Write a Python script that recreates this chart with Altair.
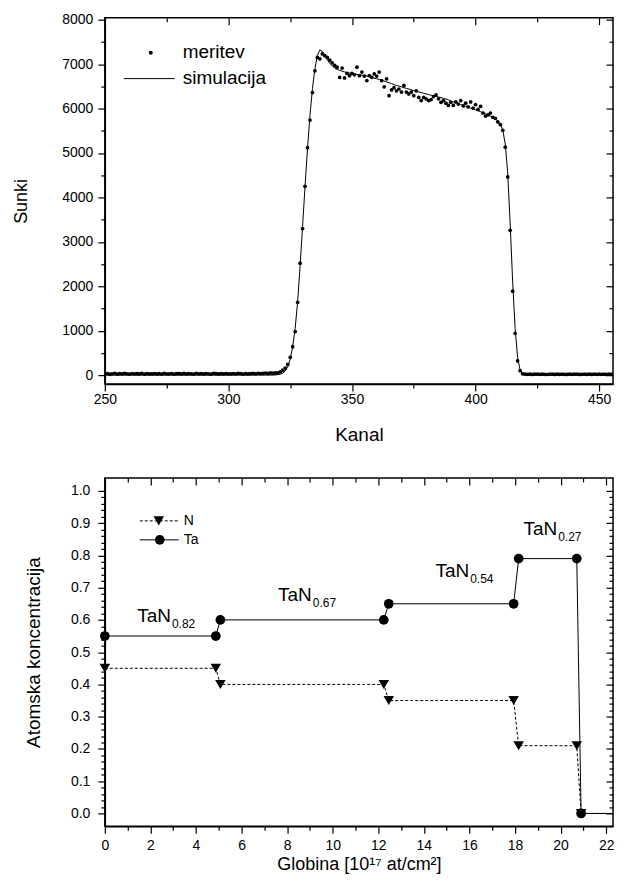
import altair as alt
import pandas as pd

FONT = "Liberation Sans"

# ---------------- top panel data (RBS spectrum) ----------------
kanal = list(range(250, 460))
meritev = (
    [28, 35, 22, 30, 40, 25, 33, 27, 38, 30,
     24, 36, 29, 31, 26, 40, 22, 34, 30, 28,
     35, 27, 32, 25, 38, 30, 29, 36, 23, 33,
     31, 26, 39, 28, 34, 30, 25, 37, 29, 32,
     27, 35, 30, 24, 38, 31, 28, 33, 26, 36,
     30, 29, 34, 27, 40, 31, 25, 35, 28, 33,
     37, 30, 42, 35, 40, 45, 38, 48, 44, 52]
    + [50, 75, 110, 160, 240, 400, 640, 980, 1640, 2520,
       3300, 4250, 5120, 5740, 6360, 6850, 7150, 7120, 7230, 7190,
       7150, 7090, 7030, 6970, 6930, 6700, 6910, 6690, 6790, 6740,
       6790, 6760, 6930, 6740, 6820, 6730, 6630, 6740, 6700, 6780,
       6730, 6820, 6630, 6490, 6670, 6290, 6420, 6470, 6400, 6440,
       6370, 6520, 6370, 6330, 6370, 6290, 6400, 6250, 6180, 6250,
       6220, 6180, 6200, 6270, 6310, 6220, 6140, 6180, 6120, 6070,
       6140, 6070, 6150, 6100, 6180, 6060, 6120, 6040, 6150, 6010,
       6090, 5980, 6050, 5900, 5830, 5860, 5900, 5800, 5780, 5700,
       5640, 5510, 5130, 4460, 3260, 1890, 940, 320, 100, 30,
       20]
    + [18, 22, 15, 20, 25, 17, 21, 19, 14, 23,
       20, 16, 22, 18, 24, 19, 15, 21, 17, 20,
       23, 16, 19, 22, 18, 20, 15, 24, 17, 21,
       19, 22, 16, 20, 18, 23, 17, 21, 19]
)
simulacija = (
    [0] * 69
    + [5, 10, 22, 45, 95, 190, 360, 640, 1050, 1650,
       2450, 3350, 4250, 5100, 5850, 6450, 6900, 7200, 7320, 7290,
       7200, 7100, 7020, 6960, 6910, 6880, 6860, 6840, 6825, 6810,
       6800, 6790, 6780, 6770, 6760, 6750, 6740, 6730, 6715, 6700,
       6685, 6670, 6655, 6640, 6620, 6600, 6580, 6560, 6540, 6520,
       6505, 6490, 6470, 6455, 6440, 6420, 6405, 6390, 6375, 6360,
       6345, 6330, 6315, 6300, 6290, 6275, 6260, 6245, 6230, 6215,
       6195, 6170, 6150, 6130, 6110, 6090, 6070, 6050, 6030, 6010,
       5990, 5970, 5950, 5930, 5905, 5880, 5855, 5830, 5800, 5765,
       5720, 5650, 5520, 5200, 4550, 3400, 2100, 1050, 400, 120,
       35, 8]
    + [0] * 39
)
legend_top = ["meritev", "simulacija"]

# ---------------- bottom panel data (depth profile) ----------------
globina = [0.0, 4.87, 5.07, 12.24, 12.46, 17.94, 18.16, 20.71, 20.90]
ta = [0.55, 0.55, 0.60, 0.60, 0.65, 0.65, 0.79, 0.79, 0.0]
n = [0.45, 0.45, 0.40, 0.40, 0.35, 0.35, 0.21, 0.21, 0.0]
globina_end = 23.0
value_end = 0.0
legend_bottom = ["N", "Ta"]

ann_main = ["TaN", "TaN", "TaN", "TaN"]
ann_sub = ["0.82", "0.67", "0.54", "0.27"]
ann_x = [2.9, 9.08, 15.99, 19.85]
ann_y = [0.612, 0.678, 0.751, 0.882]

# ---------------- frames ----------------
top_df = pd.DataFrame({"kanal": kanal, "meritev": meritev, "simulacija": simulacija})
pts_df = pd.DataFrame({"globina": globina, "ta": ta, "n": n, "i": list(range(len(globina)))})
line_df = pd.DataFrame({
    "globina": globina + [globina_end],
    "ta": ta + [value_end],
    "n": n + [value_end],
    "i": list(range(len(globina) + 1)),
})
ann_df = pd.DataFrame({"x": ann_x, "y": ann_y, "main": ann_main, "sub": ann_sub})

# ---------------- helpers ----------------
def tick_axis(orient, values, size, offset=0):
    return alt.Axis(orient=orient, values=values, tickSize=size, offset=offset,
                    labels=False, domain=False, grid=False, ticks=True,
                    tickColor="black", tickWidth=1.2, title=None,
                    minExtent=0, maxExtent=0)


def axis_layer(df, xf, yf, xs, ys, xaxis=None, yaxis=None):
    return alt.Chart(df).mark_point(opacity=0, size=1, clip=True).encode(
        x=alt.X(xf, type="quantitative", scale=xs, axis=xaxis),
        y=alt.Y(yf, type="quantitative", scale=ys, axis=yaxis),
    )


def main_axis(orient, values, fmt, pad, title, tsize, **kw):
    return alt.Axis(orient=orient, values=values, tickSize=7, format=fmt,
                    labelFontSize=14, labelPadding=pad, labelFlush=False, labelOverlap=False,
                    labelColor="black", domain=True, domainColor="black", domainWidth=1.5,
                    tickColor="black", tickWidth=1.2, grid=False, minExtent=0,
                    title=title, titleFontSize=tsize, titleFontWeight="normal",
                    titleColor="black", **kw)


# ---------------- top panel ----------------
TW, TH = 509, 367
xs_t = alt.Scale(domain=[250, 455.6], nice=False, zero=False)
ys_t = alt.Scale(domain=[-202, 8045], nice=False, zero=False)

x_major_t = [250, 300, 350, 400, 450]
x_minor_t = [275, 325, 375, 425]
y_major_t = [0, 1000, 2000, 3000, 4000, 5000, 6000, 7000, 8000]
y_minor_t = [500, 1500, 2500, 3500, 4500, 5500, 6500, 7500]

x_main_t = main_axis("bottom", x_major_t, "d", 1, "Kanal", 19, titlePadding=19)
y_main_t = main_axis("left", y_major_t, "d", 5, "Sunki", 18,
                     titleAngle=270, titleBaseline="bottom", titleX=-74)

sim_line = alt.Chart(top_df).mark_line(color="black", strokeWidth=1, clip=True).encode(
    x=alt.X("kanal:Q", scale=xs_t, axis=None),
    y=alt.Y("simulacija:Q", scale=ys_t, axis=None),
)
meas_pts = alt.Chart(top_df).mark_circle(color="black", size=14, opacity=1, clip=True).encode(
    x=alt.X("kanal:Q", scale=xs_t, axis=x_main_t),
    y=alt.Y("meritev:Q", scale=ys_t, axis=y_main_t),
)
top_axes = [
    axis_layer(top_df, "kanal", "meritev", xs_t, ys_t, xaxis=tick_axis("bottom", x_minor_t, 4)),
    axis_layer(top_df, "kanal", "meritev", xs_t, ys_t, yaxis=tick_axis("left", y_minor_t, 4)),
    axis_layer(top_df, "kanal", "meritev", xs_t, ys_t, xaxis=tick_axis("top", x_major_t, 7, -7)),
    axis_layer(top_df, "kanal", "meritev", xs_t, ys_t, xaxis=tick_axis("top", x_minor_t, 4, -4)),
    axis_layer(top_df, "kanal", "meritev", xs_t, ys_t, yaxis=tick_axis("right", y_major_t, 7, -7)),
    axis_layer(top_df, "kanal", "meritev", xs_t, ys_t, yaxis=tick_axis("right", y_minor_t, 4, -4)),
]

leg_t1 = pd.DataFrame({"t": [legend_top[0]]})
leg_t2 = pd.DataFrame({"t": [legend_top[1]]})
top_leg = [
    alt.Chart(leg_t1).mark_circle(color="black", size=16, opacity=1).encode(
        x=alt.value(46), y=alt.value(35)),
    alt.Chart(leg_t1).mark_text(align="left", baseline="middle", fontSize=19, color="black").encode(
        x=alt.value(78), y=alt.value(34), text="t:N"),
    alt.Chart(leg_t2).mark_rule(color="black", strokeWidth=1).encode(
        x=alt.value(19), x2=alt.value(70), y=alt.value(61)),
    alt.Chart(leg_t2).mark_text(align="left", baseline="middle", fontSize=19, color="black").encode(
        x=alt.value(78), y=alt.value(60), text="t:N"),
]

top = alt.layer(sim_line, meas_pts, *top_axes, *top_leg).resolve_axis(
    x="independent", y="independent").properties(width=TW, height=TH)

# ---------------- bottom panel ----------------
BW, BH = 509, 349
xs_b = alt.Scale(domain=[0, 22.3], nice=False, zero=False)
ys_b = alt.Scale(domain=[-0.04, 1.04], nice=False, zero=False)

x_major_b = [0, 2, 4, 6, 8, 10, 12, 14, 16, 18, 20, 22]
x_minor_b = [1, 3, 5, 7, 9, 11, 13, 15, 17, 19, 21]
y_major_b = [0.0, 0.1, 0.2, 0.3, 0.4, 0.5, 0.6, 0.7, 0.8, 0.9, 1.0]
y_minor_b = [0.02, 0.04, 0.06, 0.08, 0.12, 0.14, 0.16, 0.18, 0.22, 0.24, 0.26, 0.28,
             0.32, 0.34, 0.36, 0.38, 0.42, 0.44, 0.46, 0.48, 0.52, 0.54, 0.56, 0.58,
             0.62, 0.64, 0.66, 0.68, 0.72, 0.74, 0.76, 0.78, 0.82, 0.84, 0.86, 0.88,
             0.92, 0.94, 0.96, 0.98]

x_main_b = main_axis("bottom", x_major_b, "d", 5, "Globina [10¹⁷ at/cm²]", 18, titlePadding=3)
y_main_b = main_axis("left", y_major_b, ".1f", 8, "Atomska koncentracija", 19,
                     titleAngle=270, titleBaseline="bottom", titleX=-61)

n_line = alt.Chart(line_df).mark_line(color="black", strokeWidth=1, strokeDash=[3, 2], clip=True).encode(
    x=alt.X("globina:Q", scale=xs_b, axis=None),
    y=alt.Y("n:Q", scale=ys_b, axis=None),
    order="i:Q",
)
ta_line = alt.Chart(line_df).mark_line(color="black", strokeWidth=1, clip=True).encode(
    x=alt.X("globina:Q", scale=xs_b, axis=None),
    y=alt.Y("ta:Q", scale=ys_b, axis=None),
    order="i:Q",
)
n_pts = alt.Chart(pts_df).mark_point(shape="triangle-down", filled=True, color="black",
                                     size=110, opacity=1).encode(
    x=alt.X("globina:Q", scale=xs_b, axis=x_main_b),
    y=alt.Y("n:Q", scale=ys_b, axis=y_main_b),
)
ta_pts = alt.Chart(pts_df).mark_circle(color="black", size=95, opacity=1).encode(
    x=alt.X("globina:Q", scale=xs_b, axis=None),
    y=alt.Y("ta:Q", scale=ys_b, axis=None),
)
ann_main_t = alt.Chart(ann_df).mark_text(align="right", baseline="middle", fontSize=19,
                                         color="black").encode(
    x=alt.X("x:Q", scale=xs_b, axis=None),
    y=alt.Y("y:Q", scale=ys_b, axis=None),
    text="main:N",
)
ann_sub_t = alt.Chart(ann_df).mark_text(align="left", baseline="middle", fontSize=12,
                                        dx=1, dy=8, color="black").encode(
    x=alt.X("x:Q", scale=xs_b, axis=None),
    y=alt.Y("y:Q", scale=ys_b, axis=None),
    text="sub:N",
)
bot_axes = [
    axis_layer(pts_df, "globina", "ta", xs_b, ys_b, xaxis=tick_axis("bottom", x_minor_b, 4)),
    axis_layer(pts_df, "globina", "ta", xs_b, ys_b, yaxis=tick_axis("left", y_minor_b, 4)),
    axis_layer(pts_df, "globina", "ta", xs_b, ys_b, xaxis=tick_axis("top", x_major_b, 7, -7)),
    axis_layer(pts_df, "globina", "ta", xs_b, ys_b, xaxis=tick_axis("top", x_minor_b, 4, -4)),
    axis_layer(pts_df, "globina", "ta", xs_b, ys_b, yaxis=tick_axis("right", y_major_b, 7, -7)),
    axis_layer(pts_df, "globina", "ta", xs_b, ys_b, yaxis=tick_axis("right", y_minor_b, 4, -4)),
]

leg_n = pd.DataFrame({"t": [legend_bottom[0]]})
leg_ta = pd.DataFrame({"t": [legend_bottom[1]]})
bot_leg = [
    alt.Chart(leg_n).mark_rule(color="black", strokeWidth=1, strokeDash=[3, 2]).encode(
        x=alt.value(35), x2=alt.value(74), y=alt.value(43)),
    alt.Chart(leg_n).mark_point(shape="triangle-down", filled=True, color="black",
                                size=110, opacity=1).encode(x=alt.value(54), y=alt.value(43)),
    alt.Chart(leg_n).mark_text(align="left", baseline="middle", fontSize=14, color="black").encode(
        x=alt.value(79), y=alt.value(43), text="t:N"),
    alt.Chart(leg_ta).mark_rule(color="black", strokeWidth=1).encode(
        x=alt.value(35), x2=alt.value(74), y=alt.value(62)),
    alt.Chart(leg_ta).mark_circle(color="black", size=95, opacity=1).encode(
        x=alt.value(55), y=alt.value(62)),
    alt.Chart(leg_ta).mark_text(align="left", baseline="middle", fontSize=14, color="black").encode(
        x=alt.value(79), y=alt.value(62), text="t:N"),
]

bottom = alt.layer(n_line, ta_line, n_pts, ta_pts, ann_main_t, ann_sub_t, *bot_axes, *bot_leg).resolve_axis(
    x="independent", y="independent").properties(width=BW, height=BH)

chart = alt.vconcat(top, bottom, spacing=94, bounds="flush").properties(
    padding={"left": 4, "top": 3, "right": 0, "bottom": 0},
    autosize=alt.AutoSizeParams(type="pad"),
).configure(font=FONT).configure_view(stroke="black", strokeWidth=1.5)

chart.save("out.html", embed_options={"renderer": "svg", "actions": False})
